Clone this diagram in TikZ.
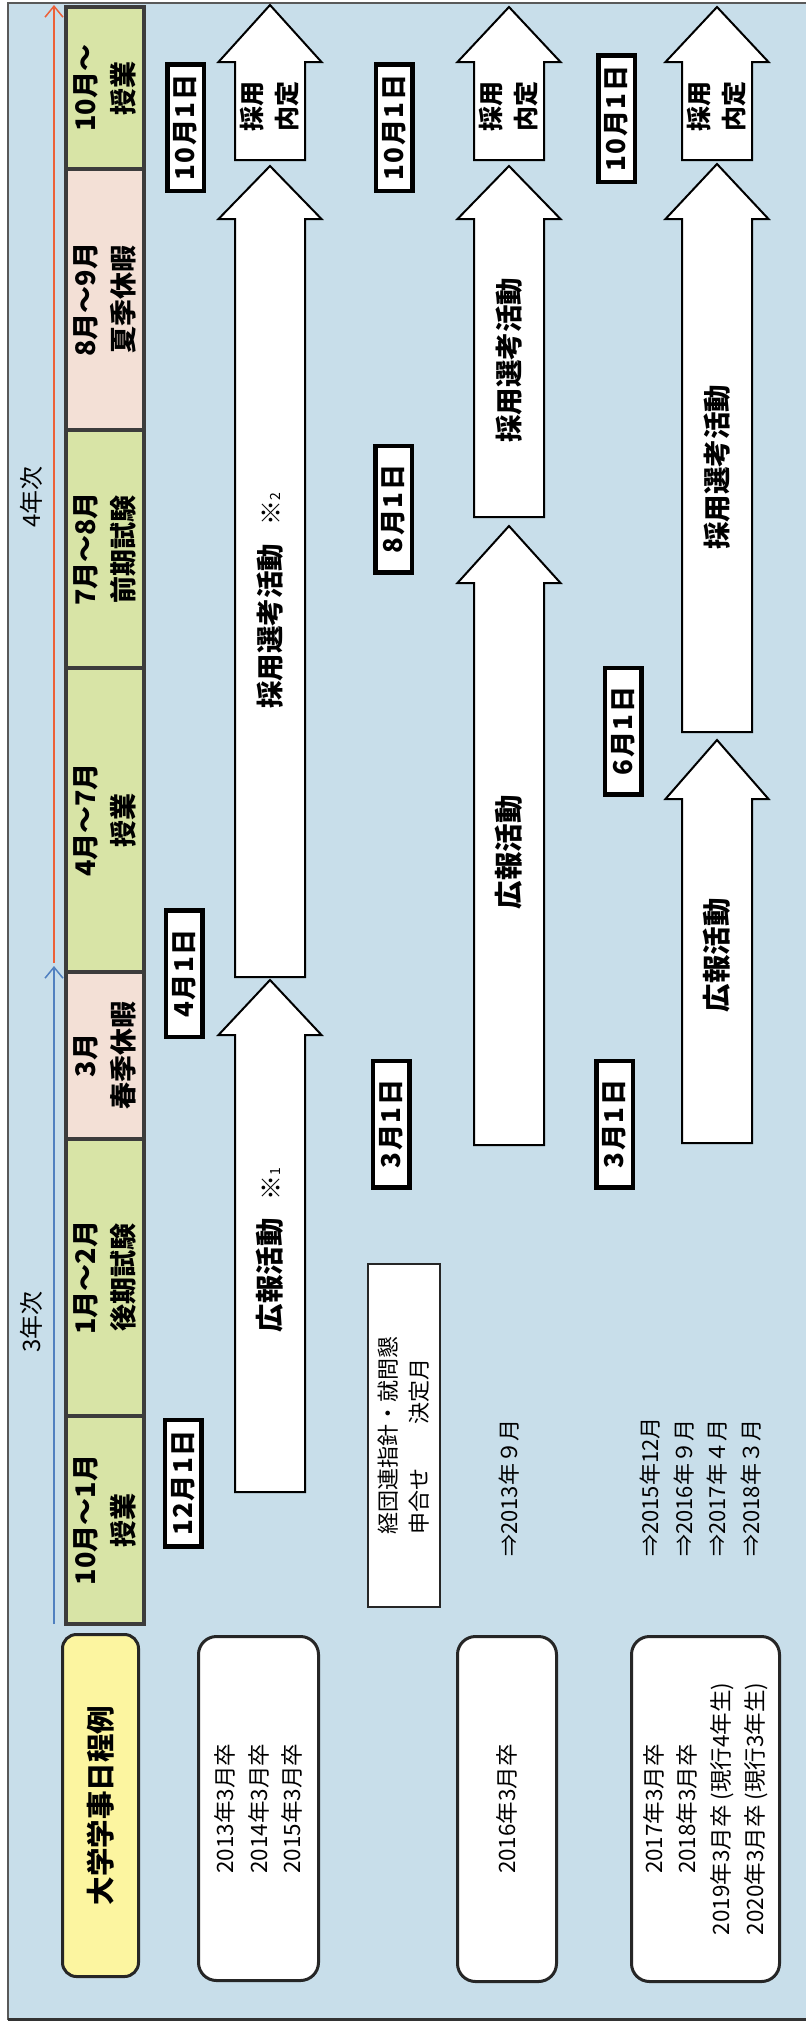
\documentclass[tikz,border=0pt]{standalone}
\usepackage{fontspec}
\usetikzlibrary{arrows.meta}
\newfontfamily\jp{Noto Sans CJK JP}
\newfontfamily\jpdate[LetterSpace=6]{Noto Sans CJK JP}
\definecolor{bgblue}{RGB}{200,222,234}
\definecolor{hgreen}{RGB}{216,228,166}
\definecolor{hpink}{RGB}{243,224,214}
\definecolor{hyellow}{RGB}{252,245,160}
\definecolor{hline}{RGB}{60,60,60}
\definecolor{yrblue}{RGB}{80,128,192}
\definecolor{yrorange}{RGB}{236,96,56}
\newcommand\jparrow[4]{%
  \draw[blockarrow] ({#1-35},#4) -- ({#1-35},#3) -- ({#1-51.5},#3) -- (#1,#2)
    -- ({#1+51.5},#3) -- ({#1+35},#3) -- ({#1+35},#4) -- cycle;}
\newcommand\jpnote[1]{{\fontsize{25}{25}\mdseries\selectfont ※\fontsize{14}{14}\selectfont #1}}
\begin{document}
\begin{tikzpicture}[x=1pt,y=-1pt,
  every node/.style={text=black},
  period/.style={draw=hline, line width=4pt, rotate=90, minimum height=78pt,
    inner sep=0pt, align=center, font=\jp\bfseries\fontsize{27}{38}\selectfont},
  datebox/.style={draw=black, line width=4.5pt, fill=white, rotate=90,
    minimum width=126.5pt, minimum height=36.5pt, inner sep=0pt,
    font=\jpdate\bfseries\fontsize{26}{26}\selectfont},
  blockarrow/.style={draw=black, line width=2pt, fill=white, line join=miter},
  arrowtext/.style={rotate=90, inner sep=0pt, font=\jp\bfseries\fontsize{27.5}{30}\selectfont},
  twoline/.style={rotate=90, inner sep=0pt, align=center, font=\jp\bfseries\fontsize{25}{35}\selectfont},
  rbox/.style={draw=black!85, line width=3pt, fill=white, rotate=90, rounded corners=18pt,
    inner sep=0pt, align=center, font=\jp\fontsize{22.5}{33.6}\selectfont},
  plain/.style={rotate=90, inner sep=0pt, align=left, font=\jp\fontsize{22}{33.7}\selectfont},
  yearlbl/.style={rotate=90, inner sep=0pt, font=\jp\fontsize{24}{24}\selectfont},
  yrarrow/.style={line width=1.5pt, -{Straight Barb[length=11pt,width=18pt,line width=1.5pt]}}
]
\useasboundingbox (0,0) rectangle (806,2022);
% frame
\fill[bgblue] (8,3) rectangle (806,2020);
\draw[black!65, line width=2pt] (8,2020) -- (8,3) -- (806,3);
\draw[black!80, line width=3pt] (8,2019.5) -- (806,2019.5);

% year arrows
\coordinate (b0) at (54,1624);
\coordinate (b1) at (54,966);
\coordinate (o0) at (54,963);
\coordinate (o1) at (54,5);
\draw[yrblue, yrarrow] (b0) -- (b1);
\draw[yrorange, yrarrow] (o0) -- (o1);
\node[yearlbl] (y4) at (31,497) {4年次};
\node[yearlbl] (y3) at (31,1322) {3年次};

% header column
\node[period, fill=hgreen, minimum width=162pt] (p1) at (105,88) {10月〜\\授業};
\node[period, fill=hpink, minimum width=261pt] (p2) at (105,299.5) {8月〜9月\\夏季休暇};
\node[period, fill=hgreen, minimum width=238pt] (p3) at (105,549) {7月〜8月\\前期試験};
\node[period, fill=hgreen, minimum width=304pt] (p4) at (105,820) {4月〜7月\\授業};
\node[period, fill=hpink, minimum width=167pt] (p5) at (105,1055.5) {3月\\春季休暇};
\node[period, fill=hgreen, minimum width=277pt] (p6) at (105,1277.5) {1月〜2月\\後期試験};
\node[period, fill=hgreen, minimum width=208pt] (p7) at (105,1520) {10月〜1月\\授業};

% title box and cohort boxes
\node[draw=black!85, line width=3pt, fill=hyellow, rotate=90, rounded corners=14pt,
  minimum width=342pt, minimum height=76pt, inner sep=0pt,
  font=\jp\bfseries\fontsize{28.5}{28.5}\selectfont] (title) at (100.5,1805.5) {大学学事日程例};
\node[rbox, minimum width=344pt, minimum height=120pt] (c1) at (258.5,1808.5)
  {2013年3月卒\\2014年3月卒\\2015年3月卒};
\node[rbox, minimum width=345pt, minimum height=99pt] (c2) at (507,1809) {2016年3月卒};
\node[rbox, minimum width=345pt, minimum height=148pt] (c3) at (705.5,1809)
  {2017年3月卒\\2018年3月卒\\2019年3月卒 (現行4年生)\\2020年3月卒 (現行3年生)};

% keidanren box
\node[draw=black!85, line width=2pt, fill=white, rotate=90, minimum width=343pt,
  minimum height=72pt, inner sep=0pt, align=left, font=\jp\fontsize{22}{31}\selectfont]
  (kd) at (404,1435.5) {経団連指針・就問懇\\申合せ　　決定月};
\node[plain, anchor=west] (k1) at (509,1557) {⇒2013年９月};
\node[plain, anchor=west] (k2) at (700.5,1557) {⇒2015年12月\\⇒2016年９月\\⇒2017年４月\\⇒2018年３月};

% block arrows, column 1
\jparrow{270}{5}{62}{160}
\jparrow{270}{166}{219}{977}
\jparrow{270}{980}{1035}{1492}
% column 2
\jparrow{509}{7}{62}{160}
\jparrow{509}{166}{219}{517}
\jparrow{509}{526}{583}{1145}
% column 3
\jparrow{717}{7}{62}{160}
\jparrow{717}{164}{219}{732}
\jparrow{717}{740}{799}{1143}

\node[twoline] (n1) at (270,106) {採用\\内定};
\node[twoline] (n2) at (509,106) {採用\\内定};
\node[twoline] (n3) at (717,106) {採用\\内定};
\node[arrowtext] (s1) at (270,601) {採用選考活動\hspace{18pt}\jpnote{2}};
\node[arrowtext, font=\jp\bfseries\fontsize{28.5}{30}\selectfont] (h1) at (270,1250) {広報活動\hspace{18pt}\jpnote{1}};
\node[arrowtext] (s2) at (509,360) {採用選考活動};
\node[arrowtext, font=\jp\bfseries\fontsize{28.5}{30}\selectfont] (h2) at (509,852) {広報活動};
\node[arrowtext] (s3) at (717,467) {採用選考活動};
\node[arrowtext, font=\jp\bfseries\fontsize{28.5}{30}\selectfont] (h3) at (717,955) {広報活動};

% date boxes
\node[datebox] (d1) at (185.5,127.5) {10月1日};
\node[datebox] (d2) at (394,127.5) {10月1日};
\node[datebox] (d3) at (616.5,118.5) {10月1日};
\node[datebox] (d4) at (184,973.5) {4月1日};
\node[datebox] (d5) at (183,1483) {12月1日};
\node[datebox] (d6) at (393.5,509) {8月1日};
\node[datebox] (d7) at (391,1124) {3月1日};
\node[datebox] (d8) at (623,731) {6月1日};
\node[datebox] (d9) at (614.5,1124) {3月1日};
\end{tikzpicture}
\end{document}
